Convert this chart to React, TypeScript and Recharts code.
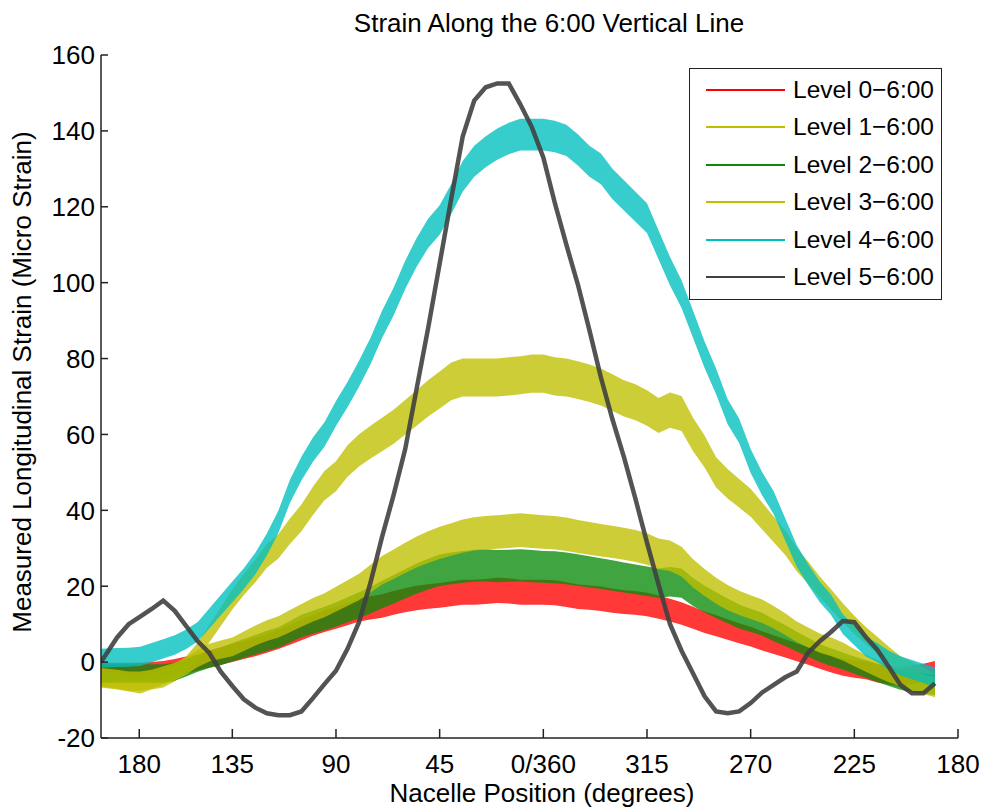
import { Area, ComposedChart, Line, XAxis, YAxis } from "recharts";

// unwrapped nacelle position (deg) of each sample
const positions = [
  -12, -5, 0, 5, 10, 15, 20, 25, 30, 35, 40, 45, 50, 55, 60, 65, 70, 75, 80, 85,
  90, 95, 100, 105, 110, 115, 120, 125, 130, 135, 140, 145, 150, 155, 160, 165,
  170, 175, 180, 185, 190, 195, 200, 205, 210, 215, 220, 225, 230, 235, 240, 245,
  250, 255, 260, 265, 270, 275, 280, 285, 290, 295, 300, 305, 310, 315, 320, 325,
  330, 335, 340, 345, 350,
];

const level0 = [
  -2.5, -2.5, -2.5, -2.5, -2.3, -2, -1.5, -0.8, 0, 0.8,
  1.6, 2.4, 3.2, 4, 5, 6, 7.2, 8.5, 9.7, 10.8,
  11.7, 12.7, 13.7, 14.3, 14.8, 15.6, 16.3, 16.9, 17.3, 17.6,
  18, 18.4, 18.4, 18.6, 18.9, 18.8, 18.4, 18.4, 18.4, 18.3,
  17.8, 17.2, 17, 16.7, 16.2, 15.8, 15.6, 15.2, 14.5, 13.7,
  12.8, 11.7, 10.5, 9.6, 8.6, 7.6, 6.7, 5.6, 4.6, 3.6,
  2.6, 1.6, 0.5, -0.5, -1.3, -1.8, -2.2, -3, -3.5, -3.9,
  -3.4, -2.8, -2,
];

const level1 = [
  -4.5, -5, -5.5, -6, -5, -4.5, -3, -0.5, 3, 7.5,
  12, 16.5, 20.5, 24, 28, 30.5, 34.5, 38, 42.5, 46.5,
  49, 53, 55.8, 58, 60, 62, 64.5, 67, 69.5, 71.7,
  74, 75, 75, 75, 75, 75.3, 75.6, 76, 76, 75.3,
  75, 74.3, 73.5, 72.5, 71, 69.5, 68.5, 67, 65, 66.4,
  65.5, 60, 55.5, 50, 47, 44.5, 42, 38.5, 35, 31.5,
  27, 23.5, 19.8, 16.5, 13, 9.8, 7, 4.5, 2, -0.5,
  -2, -3.5, -5.5,
];

const level2 = [
  -3, -3, -3, -3, -3, -3, -2.5, -1.5, -0.3, 0.7,
  1.5, 2.6, 3.6, 4.6, 5.6, 6.5, 8, 9.5, 10.5, 11.5,
  12.6, 13.8, 15, 16.3, 17.8, 19.2, 20.6, 22, 23.2, 24.2,
  24.7, 25.1, 25.4, 25.5, 25.3, 25.4, 25.5, 25.3, 25.1, 25,
  24.7, 24.3, 23.8, 23.3, 22.8, 22.3, 21.8, 21.3, 20.8, 21.2,
  20.8, 18.5, 16.6, 15, 13.5, 12, 11, 10, 8.4, 7,
  5.4, 3.9, 2.4, 1.3, 0.3, -0.8, -1.8, -2.8, -3.8, -4.7,
  -5.3, -5.7, -6,
];

const level3 = [
  -4, -4.5, -5, -5, -4.5, -3.5, -2.5, -1, 1, 2.5,
  3.3, 4, 5.5, 7, 8.3, 9.3, 10.8, 12.3, 13.8, 15,
  16.6, 18.2, 19.8, 22, 24.2, 25.8, 27.5, 29, 30.3, 31.4,
  32.3, 33.2, 33.8, 34.1, 34.3, 34.5, 34.8, 34.5, 34.3, 34.1,
  33.7, 33.1, 32.6, 32.1, 31.7, 31.2, 30.6, 29.8, 28.5, 28,
  26.5, 23.4, 21, 18.8, 17, 15.6, 14.5, 13.4, 11.8, 10,
  8, 6.5, 5, 4, 2.8, 1.2, -0.3, -1.7, -2.9, -4,
  -5, -5.8, -6.6,
];

const level4 = [
  1, 1.2, 1.3, 1.5, 2.5, 3.5, 4.5, 6, 8, 11.5,
  15, 18.5, 22, 26, 31, 37, 45, 51, 56, 60,
  65.5, 70.5, 76, 82, 89, 95, 102, 108, 113, 116.5,
  122, 128, 132, 134.5, 136.5, 138, 139, 139, 139, 138.5,
  137.5, 135, 132, 130, 126, 123, 120, 117, 110, 103,
  97, 89, 81, 74, 66, 61, 53, 47, 42, 35,
  28, 23, 18.5, 15, 10, 7, 4, 2.5, 0.5, -1,
  -2, -3, -4,
];

const level5 = [
  0, 6.5, 10, 12, 14, 16.2, 13.5, 9.5, 5.5, 2.4,
  -2.5, -6.3, -9.8, -12, -13.5, -14, -14, -13, -9.5, -5.8,
  -2.3, 3.5, 10.5, 21, 33, 44, 56, 72, 88, 105,
  122, 138.5, 148, 151.5, 152.5, 152.5, 147, 141, 133, 121,
  110, 99.5, 87.5, 75, 64, 54, 43, 31.5, 20.5, 10,
  3, -3, -9, -13, -13.5, -13, -10.8, -8, -6, -4,
  -2.5, 2.5, 5.5, 8, 10.8, 10.5, 6.6, 3.2, -1.3, -6,
  -8.2, -8.2, -5.6,
];

const tickPositions = [4.6, 45, 90, 135, 180, 225, 270, 315, 360];
const tickLabels = ["180", "135", "90", "45", "0/360", "315", "270", "225", "180"];
const strainTicks = [-20, 0, 20, 40, 60, 80, 100, 120, 140, 160];

// noisy channels are drawn as bands: half width = amp + gain * |value|
const bands = [
  { key: "l0", name: "Level 0\u22126:00", color: "#ff0000", values: level0, amp: 2.2, gain: 0.06 },
  { key: "l1", name: "Level 1\u22126:00", color: "#bfbf00", values: level1, amp: 2, gain: 0.04 },
  { key: "l2", name: "Level 2\u22126:00", color: "#0a8a0a", values: level2, amp: 2.2, gain: 0.08 },
  { key: "l3", name: "Level 3\u22126:00", color: "#bfbf00", values: level3, amp: 2.2, gain: 0.065 },
  { key: "l4", name: "Level 4\u22126:00", color: "#00bfbf", values: level4, amp: 2.5, gain: 0.012 },
];
const level5Series = { key: "l5", name: "Level 5\u22126:00", color: "#404040" };

const data = positions.map((x, i) => {
  const row: Record<string, any> = { x, l5: level5[i] };
  bands.forEach((b) => {
    const v = b.values[i];
    const h = b.amp + b.gain * Math.abs(v);
    row[b.key] = [v - h, v + h];
  });
  return row;
});

const FONT = "'Liberation Sans', Arial, sans-serif";
const AXIS = "#222";

function XTick(props: any) {
  const { x, y, payload } = props;
  const idx = tickPositions.indexOf(payload.value);
  return (
    <g>
      <line x1={x} x2={x} y1={y} y2={y - 9} stroke={AXIS} strokeWidth={1.5} />
      <text x={x} y={y + 35} textAnchor="middle" fontSize={26} fontFamily={FONT} fill="#000">
        {idx >= 0 ? tickLabels[idx] : ""}
      </text>
    </g>
  );
}

function YTick(props: any) {
  const { x, y, payload } = props;
  return (
    <g>
      <line x1={x} x2={x + 7} y1={y} y2={y} stroke={AXIS} strokeWidth={1.5} />
      <text x={x - 6} y={y + 9.3} textAnchor="end" fontSize={26} fontFamily={FONT} fill="#000">
        {payload.value}
      </text>
    </g>
  );
}

const legendItems = [...bands, level5Series];

export default function App() {
  return (
    <div style={{ position: "relative", width: 987, height: 809, margin: "-8px 0 0 -8px", background: "#fff" }}>
      <div
        style={{
          position: "absolute", left: 299, width: 500, top: 8, textAlign: "center",
          fontFamily: FONT, fontSize: 26, color: "#000", lineHeight: "30px",
        }}
      >
        Strain Along the 6:00 Vertical Line
      </div>
      <ComposedChart
        width={987}
        height={809}
        data={data}
        margin={{ top: 55, right: 29, bottom: 0, left: 0 }}
      >
        <XAxis
          dataKey="x"
          type="number"
          domain={[-12, 360]}
          ticks={tickPositions}
          interval={0}
          allowDataOverflow
          height={71}
          tickSize={0}
          tickMargin={0}
          tickLine={false}
          tick={<XTick />}
          axisLine={{ stroke: AXIS, strokeWidth: 1.5 }}
        />
        <YAxis
          type="number"
          domain={[-20, 160]}
          ticks={strainTicks}
          interval={0}
          allowDataOverflow
          width={101}
          tickSize={0}
          tickMargin={0}
          tickLine={false}
          tick={<YTick />}
          axisLine={{ stroke: AXIS, strokeWidth: 1.5 }}
        />
        {bands.map((b) => (
          <Area
            key={b.key}
            type="linear"
            dataKey={b.key}
            name={b.name}
            stroke="none"
            fill={b.color}
            fillOpacity={0.78}
            dot={false}
            activeDot={false}
            isAnimationActive={false}
          />
        ))}
        <Line
          type="linear"
          dataKey="l5"
          name={level5Series.name}
          stroke={level5Series.color}
          strokeOpacity={0.9}
          strokeWidth={4.5}
          dot={false}
          activeDot={false}
          isAnimationActive={false}
        />
      </ComposedChart>
      <div
        style={{
          position: "absolute", left: 292, top: 778, width: 500, textAlign: "center",
          fontFamily: FONT, fontSize: 26, color: "#000", lineHeight: "30px",
        }}
      >
        Nacelle Position (degrees)
      </div>
      <div style={{ position: "absolute", left: 22, top: 382, width: 0, height: 0 }}>
        <div
          style={{
            position: "absolute", left: -300, top: -15, width: 600, textAlign: "center",
            transform: "rotate(-90deg)", fontFamily: FONT, fontSize: 26, color: "#000",
            lineHeight: "30px", whiteSpace: "nowrap",
          }}
        >
          Measured Longitudinal Strain (Micro Strain)
        </div>
      </div>
      <div
        style={{
          position: "absolute", left: 689, top: 68, width: 251, height: 230,
          border: "1.5px solid #222", background: "#fff",
        }}
      >
        {legendItems.map((item, i) => (
          <div
            key={item.key}
            style={{ position: "absolute", left: 0, top: 21 + i * 37.4 - 15, height: 30, width: 245 }}
          >
            <div
              style={{
                position: "absolute", left: 16, top: 14, width: 79, height: 2,
                background: item.color,
              }}
            />
            <div
              style={{
                position: "absolute", left: 103, top: 0, lineHeight: "30px",
                fontFamily: FONT, fontSize: 24.5, color: "#000", whiteSpace: "nowrap",
              }}
            >
              {item.name}
            </div>
          </div>
        ))}
      </div>
    </div>
  );
}
